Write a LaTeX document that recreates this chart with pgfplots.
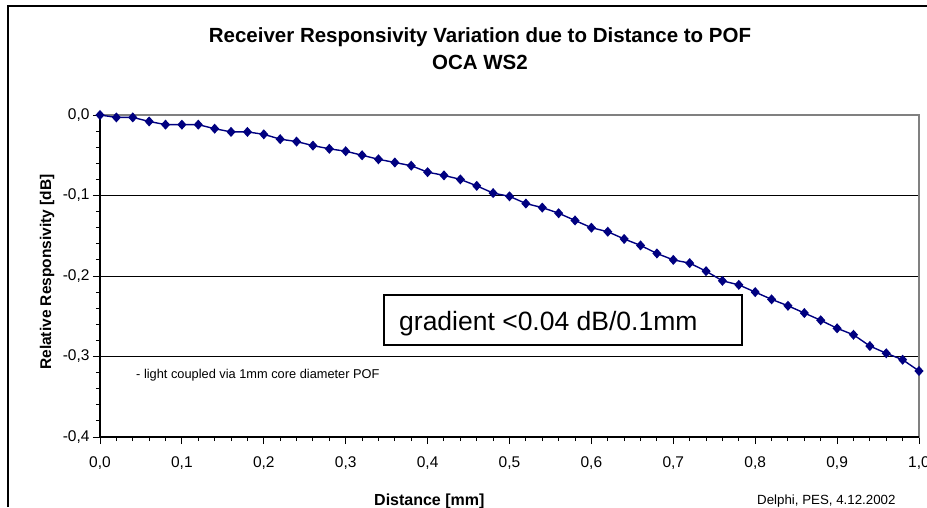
\documentclass[border=0pt]{standalone}
\usepackage{pgfplots}
\pgfplotsset{compat=1.18}
\usepackage{pgfplotstable}
\usepackage{fontspec}
\setmainfont{Liberation Sans}

\definecolor{excelnavy}{HTML}{000080}
\definecolor{framegray}{HTML}{808080}

% distance [mm] vs relative responsivity [dB]
\pgfplotstableread{
x     y
0.00  0.000
0.02 -0.003
0.04 -0.003
0.06 -0.008
0.08 -0.012
0.10 -0.012
0.12 -0.012
0.14 -0.017
0.16 -0.021
0.18 -0.021
0.20 -0.024
0.22 -0.030
0.24 -0.033
0.26 -0.038
0.28 -0.042
0.30 -0.045
0.32 -0.050
0.34 -0.055
0.36 -0.059
0.38 -0.063
0.40 -0.071
0.42 -0.075
0.44 -0.080
0.46 -0.088
0.48 -0.097
0.50 -0.101
0.52 -0.110
0.54 -0.115
0.56 -0.122
0.58 -0.131
0.60 -0.140
0.62 -0.145
0.64 -0.154
0.66 -0.162
0.68 -0.172
0.70 -0.180
0.72 -0.184
0.74 -0.194
0.76 -0.206
0.78 -0.211
0.80 -0.220
0.82 -0.229
0.84 -0.237
0.86 -0.246
0.88 -0.255
0.90 -0.265
0.92 -0.273
0.94 -0.287
0.96 -0.296
0.98 -0.304
1.00 -0.318
}\resp

\begin{document}
\begin{tikzpicture}[x=1pt,y=1pt]
\useasboundingbox (0,0) rectangle (927,507);
% chart area frame (cropped on the right and bottom)
\draw[line width=1.5pt] (8,0) -- (8,501) -- (927,501);

\node[anchor=base, font=\bfseries\fontsize{20.5}{24}\selectfont] at (480,464) {Receiver Responsivity Variation due to Distance to POF};
\node[anchor=base, font=\bfseries\fontsize{20.5}{24}\selectfont] at (480,437) {OCA WS2};

\begin{axis}[
    at={(100pt,70pt)}, anchor=south west,
    scale only axis, width=819pt, height=322pt,
    xmin=0, xmax=1, ymin=-0.4, ymax=0,
    clip=false,
    xtick={0,0.1,0.2,0.3,0.4,0.5,0.6,0.7,0.8,0.9,1},
    xticklabels={{0,0},{0,1},{0,2},{0,3},{0,4},{0,5},{0,6},{0,7},{0,8},{0,9},{1,0}},
    ytick={-0.4,-0.3,-0.2,-0.1,0},
    yticklabels={{-0,4},{-0,3},{-0,2},{-0,1},{0,0}},
    minor x tick num=4, minor y tick num=4,
    tick align=outside, tick pos=left,
    major tick length=7pt, minor tick length=4pt,
    tick style={black, line width=1pt},
    ticklabel style={font=\fontsize{15.5}{18}\selectfont},
    xticklabel style={yshift=-9pt},
    ymajorgrids, grid style={black, line width=1pt},
    axis line style={draw=framegray, line width=1.3pt},
]
\draw[framegray, line width=1.3pt] (rel axis cs:0,1) -- (rel axis cs:1,1);
\draw[black, line width=1.3pt] (rel axis cs:0,1) -- (rel axis cs:0,0) -- (rel axis cs:1,0);
\addplot[excelnavy, line width=1.4pt, mark=diamond*, mark size=4pt,
    mark options={fill=excelnavy, draw=excelnavy, xscale=1.2}] table[x=x, y=y] {\resp};
\end{axis}

\node[rotate=90, anchor=base, font=\bfseries\fontsize{15.5}{18}\selectfont] at (51,235) {Relative Responsivity [dB]};
\node[anchor=base west, font=\bfseries\fontsize{16}{19}\selectfont, inner sep=0pt] at (374,2) {Distance [mm]};
\node[anchor=base west, font=\fontsize{13.3}{16}\selectfont, inner sep=0pt] at (757,3) {Delphi, PES, 4.12.2002};

\draw[black, line width=1.1pt, fill=white] (384,162) rectangle (742,212);
\node[anchor=base west, inner sep=0pt, font=\fontsize{26.5}{30}\selectfont] at (399,176.3) {gradient <0.04 dB/0.1mm};
\node[anchor=base west, inner sep=0pt, font=\fontsize{12.8}{15}\selectfont] at (136,129) {- light coupled via 1mm core diameter POF};
\end{tikzpicture}
\end{document}
